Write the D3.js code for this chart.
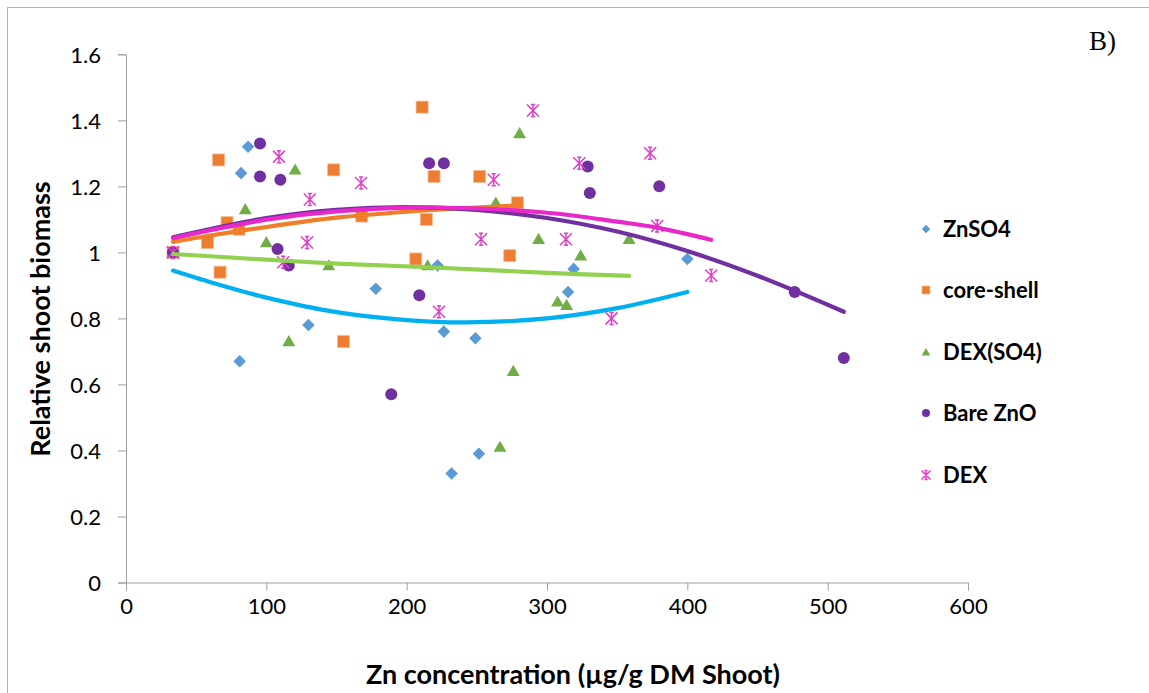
<!DOCTYPE html>
<html>
<head>
<meta charset="utf-8">
<script src="https://cdn.jsdelivr.net/npm/d3@7"></script>
<style>
  body { margin: 0; background: #fff; }
  svg { display: block; }
</style>
</head>
<body>
<svg id="chart" width="1149" height="693"></svg>
<script>
// values, [Zn concentration, relative biomass]
const znso4 = [[33.5,1.0],[87,1.32],[82,1.24],[81,0.67],[130,0.78],[178,0.89],[222,0.96],[226.5,0.76],[232,0.33],[249,0.74],[251.5,0.39],[319,0.95],[315,0.88],[400,0.98]];
const coreShell = [[33.5,1.0],[66,1.28],[72,1.09],[58,1.03],[80.5,1.07],[67,0.94],[148,1.25],[168,1.11],[155,0.73],[206.5,0.98],[211,1.44],[214,1.10],[219.5,1.23],[252,1.23],[273.5,0.99],[279,1.15]];
const dexSO4 = [[33.5,1.0],[85,1.13],[100,1.03],[116,0.73],[120.5,1.25],[144.5,0.96],[215,0.96],[263.5,1.15],[266.5,0.41],[276,0.64],[280.5,1.36],[294,1.04],[307.5,0.85],[314,0.84],[324,0.99],[358.5,1.04]];
const bareZnO = [[33.5,1.0],[95.5,1.33],[95.5,1.23],[110,1.22],[108,1.01],[116,0.96],[189,0.57],[209,0.87],[216,1.27],[226.5,1.27],[329,1.26],[330.5,1.18],[380,1.20],[476.5,0.88],[511.5,0.68]];
const dex = [[33.5,1.0],[109,1.29],[112,0.97],[129,1.03],[131,1.16],[167.5,1.21],[223,0.82],[253,1.04],[262,1.22],[290,1.43],[313.5,1.04],[323,1.27],[346,0.80],[373.5,1.30],[378.5,1.08],[417,0.93]];

// polynomial trendlines as they appear in the picture
const trendZnso4 = [[33.5,0.945],[67,0.901],[100,0.863],[150,0.819],[200,0.795],[242,0.788],[300,0.8],[350,0.831],[400,0.88]];
const trendCoreShell = [[33.5,1.032],[100,1.077],[150,1.105],[200,1.123],[250,1.136],[279,1.142]];
const trendDexSO4 = [[33.5,0.995],[100,0.978],[150,0.966],[215,0.955],[300,0.938],[358.5,0.929]];
const trendBareZnO = [[33.5,1.046],[100,1.104],[150,1.129],[200,1.137],[250,1.129],[300,1.104],[350,1.063],[400,1.004],[450,0.929],[511.5,0.82]];
const trendDex = [[33.5,1.043],[100,1.099],[150,1.124],[220,1.136],[300,1.12],[350,1.093],[378.5,1.075],[417,1.038]];

const seriesNames = ["ZnSO4", "core-shell", "DEX(SO4)", "Bare ZnO", "DEX"];
const xTicks = [0, 100, 200, 300, 400, 500, 600];
const yTicks = [0, 0.2, 0.4, 0.6, 0.8, 1, 1.2, 1.4, 1.6];

const series = [
  { name: seriesNames[0], data: znso4, trend: trendZnso4, shape: "diamond", color: "#5B9BD5", line: "#00B0F0" },
  { name: seriesNames[1], data: coreShell, trend: trendCoreShell, shape: "square", color: "#ED7D31", line: "#F07D28" },
  { name: seriesNames[2], data: dexSO4, trend: trendDexSO4, shape: "triangle", color: "#70AD47", line: "#92D050" },
  { name: seriesNames[3], data: bareZnO, trend: trendBareZnO, shape: "circle", color: "#7030A0", line: "#7030A0" },
  { name: seriesNames[4], data: dex, trend: trendDex, shape: "star", color: "#E23CC9", line: "#E629C8" }
];

const svg = d3.select("#chart");
const font = "Lato, 'Open Sans', sans-serif";

const x = d3.scaleLinear().domain([0, 600]).range([126, 968]);
const y = d3.scaleLinear().domain([0, 1.6]).range([582.5, 54.3]);

// outer chart frame
svg.append("rect")
  .attr("x", 7.5).attr("y", 7.5)
  .attr("width", 1160).attr("height", 720)
  .attr("fill", "none").attr("stroke", "#b3b3b3");

// axes
const xAxis = svg.append("g")
  .attr("transform", `translate(0,${y(0)})`)
  .call(d3.axisBottom(x).tickValues(xTicks).tickSize(8).tickPadding(8));
const yAxis = svg.append("g")
  .attr("transform", `translate(${x(0)},0)`)
  .call(d3.axisLeft(y).tickValues(yTicks).tickSize(8).tickPadding(17).tickFormat(d3.format("~g")));

[xAxis, yAxis].forEach(g => {
  g.select(".domain").attr("stroke", "#a0a0a0");
  g.selectAll(".tick line").attr("stroke", "#a0a0a0");
  g.selectAll("text").attr("font-family", font).attr("font-size", 22).attr("fill", "#000");
});
yAxis.selectAll("text").attr("dy", "0.36em");

svg.append("text")
  .attr("x", 573).attr("y", 684)
  .attr("text-anchor", "middle")
  .attr("font-family", font).attr("font-size", 27).attr("font-weight", "bold")
  .text("Zn concentration (µg/g DM Shoot)");

svg.append("text")
  .attr("transform", "translate(50,319) rotate(-90)")
  .attr("text-anchor", "middle")
  .attr("font-family", font).attr("font-size", 27).attr("font-weight", "bold")
  .text("Relative shoot biomass");

svg.append("text")
  .attr("x", 1089).attr("y", 50)
  .attr("font-family", "'Liberation Serif', 'Times New Roman', serif").attr("font-size", 27)
  .text("B)");

// marker drawing
function marker(g, shape, color, s) {
  if (shape === "diamond") {
    g.append("rect").attr("x", -s * 0.37).attr("y", -s * 0.37)
      .attr("width", s * 0.74).attr("height", s * 0.74)
      .attr("transform", "rotate(45)").attr("fill", color);
  } else if (shape === "square") {
    g.append("rect").attr("x", -s / 2).attr("y", -s / 2)
      .attr("width", s).attr("height", s)
      .attr("fill", color).attr("stroke", "#f6b88e").attr("stroke-width", 0.8);
  } else if (shape === "triangle") {
    g.append("path").attr("d", d3.symbol(d3.symbolTriangle, s * s * 0.5)).attr("transform", "translate(0,1)").attr("fill", color);
  } else if (shape === "circle") {
    g.append("circle").attr("r", s / 2).attr("fill", color);
  } else {
    const h = s / 2;
    g.append("path")
      .attr("d", `M0,${-h}V${h}M${-h},${-h}L${h},${h}M${-h},${h}L${h},${-h}M${-h * 0.35},${-h}H${h * 0.35}M${-h * 0.35},${h}H${h * 0.35}`)
      .attr("stroke", color).attr("stroke-width", 1.5).attr("fill", "none");
  }
}

const line = d3.line().x(d => x(d[0])).y(d => y(d[1])).curve(d3.curveCatmullRom.alpha(0.5));

series.forEach(s => {
  const g = svg.append("g");
  s.data.forEach(d => {
    marker(g.append("g").attr("transform", `translate(${x(d[0])},${y(d[1])})`), s.shape, s.color, 12);
  });
});

series.forEach(s => {
  svg.append("path").datum(s.trend)
    .attr("d", line)
    .attr("fill", "none").attr("stroke", s.line)
    .attr("stroke-width", 4.2).attr("stroke-linecap", "round");
});

// legend
const legendY = [229, 290, 352, 413, 475];
series.forEach((s, i) => {
  const g = svg.append("g").attr("transform", `translate(926,${legendY[i]})`);
  marker(g, s.shape, s.color, s.shape === "star" ? 9 : 8);
  g.append("text")
    .attr("x", 17).attr("y", 0).attr("dy", "0.36em")
    .attr("font-family", font).attr("font-size", 22).attr("font-weight", "bold")
    .text(s.name);
});
</script>
</body>
</html>
